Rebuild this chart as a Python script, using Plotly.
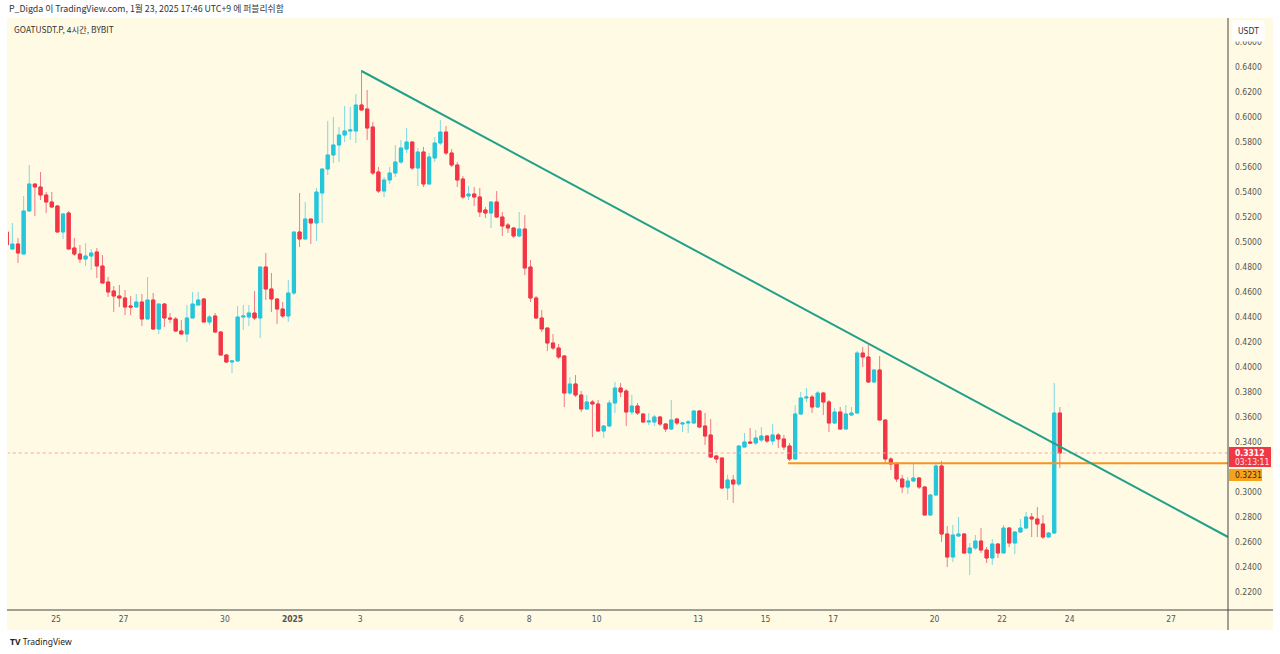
import pandas as pd
import plotly.graph_objects as go

# ---------------- data (4h candles, KST) ----------------
start_time = "2024-12-23 13:00"
n_candles = 188

open_ = [0.5080,0.4944,0.4984,0.4904,0.5248,0.5464,0.5440,0.5376,0.5320,0.5288,
         0.5080,0.5232,0.4952,0.4904,0.4864,0.4888,0.4920,0.4808,0.4680,0.4608,
         0.4568,0.4552,0.4488,0.4480,0.4520,0.4384,0.4536,0.4304,0.4504,0.4392,
         0.4384,0.4288,0.4264,0.4392,0.4496,0.4544,0.4360,0.4408,0.4280,0.4096,
         0.4040,0.4048,0.4400,0.4400,0.4432,0.4392,0.4800,0.4624,0.4544,0.4464,
         0.4408,0.4592,0.5080,0.5024,0.5184,0.5152,0.5392,0.5584,0.5696,0.5776,
         0.5856,0.5888,0.5888,0.6096,0.6064,0.5920,0.5560,0.5408,0.5496,0.5552,
         0.5640,0.5744,0.5800,0.5592,0.5720,0.5464,0.5672,0.5792,0.5880,0.5712,
         0.5616,0.5504,0.5368,0.5384,0.5360,0.5256,0.5232,0.5320,0.5200,0.5136,
         0.5112,0.5048,0.5104,0.4800,0.4552,0.4392,0.4312,0.4192,0.4152,0.4088,
         0.3792,0.3864,0.3776,0.3664,0.3720,0.3704,0.3488,0.3528,0.3712,0.3832,
         0.3808,0.3640,0.3688,0.3624,0.3560,0.3560,0.3600,0.3544,0.3504,0.3584,
         0.3544,0.3552,0.3552,0.3648,0.3528,0.3456,0.3288,0.3272,0.3032,0.3096,
         0.3064,0.3360,0.3400,0.3392,0.3416,0.3448,0.3408,0.3456,0.3424,0.3368,
         0.3264,0.3624,0.3752,0.3760,0.3680,0.3792,0.3720,0.3552,0.3640,0.3504,
         0.3616,0.3632,0.4112,0.4080,0.3880,0.3976,0.3576,0.3264,0.3224,0.3104,
         0.3040,0.3088,0.3112,0.3040,0.2816,0.2976,0.3208,0.2664,0.2480,0.2648,
         0.2664,0.2512,0.2552,0.2608,0.2536,0.2472,0.2584,0.2512,0.2712,0.2592,
         0.2680,0.2712,0.2800,0.2784,0.2744,0.2640,0.2672,0.3632]
high = [0.5208,0.5152,0.5032,0.5368,0.5616,0.5464,0.5560,0.5400,0.5400,0.5296,
        0.5232,0.5248,0.5032,0.4976,0.4992,0.4944,0.4952,0.4896,0.4720,0.4648,
        0.4656,0.4616,0.4568,0.4584,0.4584,0.4720,0.4592,0.4504,0.4512,0.4432,
        0.4400,0.4376,0.4496,0.4600,0.4600,0.4552,0.4416,0.4432,0.4288,0.4104,
        0.4056,0.4488,0.4496,0.4496,0.4608,0.4800,0.4912,0.4752,0.4552,0.4520,
        0.4696,0.5080,0.5392,0.5320,0.5184,0.5432,0.5584,0.5968,0.6000,0.5920,
        0.6088,0.6080,0.6184,0.6376,0.6216,0.5960,0.5600,0.5520,0.5600,0.5776,
        0.5816,0.5912,0.5808,0.5752,0.5760,0.5712,0.5840,0.5976,0.5928,0.5744,
        0.5640,0.5528,0.5448,0.5440,0.5432,0.5280,0.5328,0.5408,0.5240,0.5152,
        0.5120,0.5240,0.5216,0.4856,0.4568,0.4456,0.4312,0.4264,0.4184,0.4096,
        0.3920,0.3936,0.3808,0.3776,0.3736,0.3736,0.3536,0.3736,0.3880,0.3872,
        0.3824,0.3776,0.3712,0.3632,0.3632,0.3616,0.3608,0.3552,0.3736,0.3592,
        0.3560,0.3576,0.3656,0.3656,0.3632,0.3584,0.3296,0.3272,0.3136,0.3136,
        0.3376,0.3472,0.3512,0.3496,0.3520,0.3456,0.3544,0.3472,0.3456,0.3392,
        0.3696,0.3800,0.3832,0.3776,0.3808,0.3800,0.3736,0.3672,0.3680,0.3696,
        0.3680,0.4128,0.4160,0.4176,0.3984,0.4088,0.3576,0.3280,0.3240,0.3136,
        0.3120,0.3224,0.3120,0.3048,0.2984,0.3232,0.3248,0.2728,0.2736,0.2800,
        0.2672,0.2592,0.2656,0.2712,0.2560,0.2624,0.2592,0.2736,0.2720,0.2688,
        0.2784,0.2840,0.2832,0.2880,0.2816,0.2680,0.3872,0.3680]
low = [0.4936,0.4936,0.4832,0.4904,0.5248,0.5208,0.5336,0.5232,0.5272,0.5080,
       0.5024,0.4944,0.4888,0.4832,0.4808,0.4776,0.4712,0.4672,0.4560,0.4440,
       0.4480,0.4416,0.4416,0.4472,0.4328,0.4384,0.4296,0.4264,0.4320,0.4352,
       0.4280,0.4264,0.4200,0.4392,0.4496,0.4360,0.4336,0.4272,0.4096,0.4032,
       0.3952,0.4048,0.4296,0.4328,0.4376,0.4232,0.4536,0.4440,0.4344,0.4392,
       0.4360,0.4576,0.4960,0.5024,0.4984,0.5008,0.5152,0.5536,0.5632,0.5640,
       0.5800,0.5816,0.5792,0.6056,0.5816,0.5536,0.5392,0.5360,0.5464,0.5520,
       0.5624,0.5712,0.5576,0.5448,0.5440,0.5464,0.5640,0.5776,0.5696,0.5600,
       0.5440,0.5344,0.5336,0.5288,0.5200,0.5192,0.5112,0.5192,0.5048,0.5072,
       0.5032,0.5040,0.4736,0.4520,0.4384,0.4280,0.4128,0.4136,0.4064,0.3680,
       0.3776,0.3760,0.3640,0.3656,0.3440,0.3488,0.3432,0.3520,0.3632,0.3760,
       0.3528,0.3616,0.3616,0.3552,0.3536,0.3528,0.3528,0.3480,0.3496,0.3536,
       0.3480,0.3472,0.3544,0.3512,0.3376,0.3272,0.3232,0.3024,0.2936,0.2912,
       0.3048,0.3360,0.3384,0.3376,0.3400,0.3392,0.3376,0.3352,0.3336,0.3248,
       0.3264,0.3616,0.3720,0.3632,0.3672,0.3616,0.3480,0.3544,0.3496,0.3504,
       0.3608,0.3624,0.4000,0.3872,0.3872,0.3576,0.3232,0.3176,0.3080,0.2992,
       0.2984,0.3080,0.3024,0.2816,0.2808,0.2968,0.2600,0.2400,0.2440,0.2640,
       0.2504,0.2336,0.2536,0.2512,0.2432,0.2416,0.2472,0.2512,0.2560,0.2504,
       0.2672,0.2704,0.2640,0.2640,0.2624,0.2632,0.2664,0.3192]
close = [0.4976,0.4984,0.4912,0.5248,0.5464,0.5440,0.5376,0.5320,0.5280,0.5080,
         0.5224,0.4944,0.4904,0.4864,0.4888,0.4912,0.4808,0.4672,0.4600,0.4568,
         0.4552,0.4480,0.4480,0.4520,0.4384,0.4536,0.4304,0.4504,0.4392,0.4384,
         0.4288,0.4264,0.4392,0.4504,0.4536,0.4360,0.4400,0.4280,0.4096,0.4040,
         0.4048,0.4400,0.4408,0.4432,0.4392,0.4800,0.4624,0.4544,0.4464,0.4408,
         0.4592,0.5080,0.5024,0.5184,0.5152,0.5400,0.5584,0.5696,0.5776,0.5856,
         0.5888,0.5896,0.6096,0.6056,0.5912,0.5552,0.5408,0.5496,0.5552,0.5640,
         0.5752,0.5800,0.5592,0.5720,0.5464,0.5680,0.5792,0.5880,0.5712,0.5616,
         0.5496,0.5360,0.5384,0.5360,0.5240,0.5232,0.5320,0.5200,0.5128,0.5112,
         0.5048,0.5104,0.4792,0.4552,0.4392,0.4304,0.4192,0.4152,0.4080,0.3792,
         0.3864,0.3776,0.3664,0.3720,0.3704,0.3488,0.3528,0.3712,0.3832,0.3800,
         0.3640,0.3688,0.3632,0.3560,0.3568,0.3600,0.3544,0.3504,0.3576,0.3552,
         0.3552,0.3560,0.3648,0.3520,0.3448,0.3280,0.3264,0.3032,0.3096,0.3064,
         0.3368,0.3400,0.3392,0.3432,0.3448,0.3408,0.3456,0.3424,0.3360,0.3264,
         0.3624,0.3752,0.3760,0.3680,0.3792,0.3720,0.3552,0.3640,0.3504,0.3624,
         0.3632,0.4112,0.4080,0.3880,0.3976,0.3576,0.3264,0.3224,0.3104,0.3040,
         0.3088,0.3112,0.3040,0.2816,0.2976,0.3208,0.2664,0.2480,0.2656,0.2664,
         0.2512,0.2552,0.2608,0.2536,0.2472,0.2584,0.2512,0.2712,0.2592,0.2680,
         0.2712,0.2800,0.2784,0.2744,0.2640,0.2672,0.3632,0.3312]

# drawings
trend_x = ["2025-01-03 01:00", "2025-01-28 16:26"]
trend_y = [0.6368, 0.2640]
level_x = ["2025-01-15 16:00", "2025-01-28 16:26"]
level_price = 0.3231
last_price = 0.3312
countdown = "03:13:11"

x_tick_vals = ["2024-12-25", "2024-12-27", "2024-12-30", "2025-01-01", "2025-01-03",
               "2025-01-06", "2025-01-08", "2025-01-10", "2025-01-13", "2025-01-15",
               "2025-01-17", "2025-01-20", "2025-01-22", "2025-01-24", "2025-01-27"]
x_tick_text = ["25", "27", "30", "<b>2025</b>", "3", "6", "8", "10", "13", "15",
               "17", "20", "22", "24", "27"]
# 0.3200 sits under the price tags in the original, so it is not shown
y_tick_vals = [0.22, 0.24, 0.26, 0.28, 0.30, 0.34, 0.36, 0.38, 0.40, 0.42, 0.44,
               0.46, 0.48, 0.50, 0.52, 0.54, 0.56, 0.58, 0.60, 0.62, 0.64, 0.66]

times = pd.date_range(start=start_time, periods=n_candles, freq="4h")

UP = "#26C6DA"
DN = "#F23645"
UP_W = "#7FD8E4"
DN_W = "#F27A84"
BG = "#FFFAE3"
FONT = "Liberation Sans Narrow, DejaVu Sans Condensed, Liberation Sans, Arial, sans-serif"

body_hi = [max(o, c) for o, c in zip(open_, close)]
body_lo = [min(o, c) for o, c in zip(open_, close)]

fig = go.Figure()
fig.add_trace(go.Candlestick(
    x=times, open=open_, high=high, low=low, close=close,
    increasing=dict(line=dict(color=UP_W, width=1), fillcolor=UP_W),
    decreasing=dict(line=dict(color=DN_W, width=1), fillcolor=DN_W),
    showlegend=False, hoverinfo="skip"))
fig.add_trace(go.Candlestick(
    x=times, open=open_, high=body_hi, low=body_lo, close=close,
    increasing=dict(line=dict(color=UP, width=1), fillcolor=UP),
    decreasing=dict(line=dict(color=DN, width=1), fillcolor=DN),
    showlegend=False))

fig.add_trace(go.Scatter(x=[times[0], trend_x[1]], y=[last_price, last_price], mode="lines",
                         line=dict(color="#F4A3A8", width=1, dash="dot"),
                         showlegend=False, hoverinfo="skip"))
fig.add_trace(go.Scatter(x=level_x, y=[level_price, level_price], mode="lines",
                         line=dict(color="#F7931E", width=2),
                         showlegend=False, hoverinfo="skip"))
fig.add_trace(go.Scatter(x=trend_x, y=trend_y, mode="lines",
                         line=dict(color="#22A08A", width=2),
                         showlegend=False, hoverinfo="skip"))

SL, SR, ST, SB = 8, 1228, 20, 610      # plot area in page pixels
W, H = 1280, 654
def xp(px):
    return (px - SL) / (SR - SL)
def yp(py):
    return (SB - py) / (SB - ST)

shapes = [
    dict(type="rect", xref="paper", yref="paper", x0=xp(7), x1=xp(1273), y0=yp(630), y1=yp(18),
         fillcolor=BG, line=dict(width=0), layer="below"),
    dict(type="line", xref="paper", yref="paper", x0=xp(7), x1=xp(1273), y0=yp(610), y1=yp(610),
         line=dict(color="#444444", width=1)),
    dict(type="line", xref="paper", yref="paper", x0=xp(1228), x1=xp(1228), y0=yp(630), y1=yp(18),
         line=dict(color="#444444", width=1)),
    dict(type="rect", xref="paper", yref="paper", x0=xp(1229), x1=xp(1271), y0=yp(467), y1=yp(447),
         fillcolor=DN, line=dict(width=0), layer="above"),
    dict(type="rect", xref="paper", yref="paper", x0=xp(1229), x1=xp(1262), y0=yp(481), y1=yp(469),
         fillcolor="#F7A21B", line=dict(width=0), layer="above"),
]

annotations = [
    dict(text="P_Digda 이 TradingView.com, 1월 23, 2025 17:46 UTC+9 에 퍼블리쉬함",
         x=xp(7), y=yp(9), xref="paper", yref="paper", xanchor="left", yanchor="middle",
         showarrow=False, font=dict(family="Noto Sans CJK KR, Noto Sans, sans-serif", size=8.8, color="#333333")),
    dict(text="GOATUSDT.P, 4시간, BYBIT",
         x=xp(12), y=yp(29), xref="paper", yref="paper", xanchor="left", yanchor="middle",
         showarrow=False, font=dict(family="Noto Sans CJK KR, Noto Sans, sans-serif", size=8.4, color="#333333")),
    dict(text="USDT", x=xp(1232), y=yp(31), xref="paper", yref="paper", xanchor="left", yanchor="middle",
         showarrow=False, bgcolor="#FFFFFF", borderpad=5,
         font=dict(family=FONT, size=8.5, color="#333333")),
    dict(text="<b>%.4f</b>" % last_price, x=xp(1233), y=yp(452.5), xref="paper", yref="paper",
         xanchor="left", yanchor="middle", showarrow=False,
         font=dict(family=FONT, size=8.5, color="#FFFFFF")),
    dict(text=countdown, x=xp(1233), y=yp(462), xref="paper", yref="paper",
         xanchor="left", yanchor="middle", showarrow=False,
         font=dict(family=FONT, size=8.5, color="#FFE4E6")),
    dict(text="%.4f" % level_price, x=xp(1233), y=yp(475), xref="paper", yref="paper",
         xanchor="left", yanchor="middle", showarrow=False,
         font=dict(family=FONT, size=8.5, color="#3A2A10")),
    dict(text="<b>TV</b> TradingView", x=xp(8), y=yp(641), xref="paper", yref="paper",
         xanchor="left", yanchor="middle", showarrow=False,
         font=dict(family="Noto Sans, sans-serif", size=8.5, color="#222222")),
]

fig.update_layout(
    width=W, height=H,
    margin=dict(l=SL, r=W - SR, t=ST, b=H - SB),
    paper_bgcolor="#FFFFFF", plot_bgcolor=BG,
    boxgap=0.25, boxgroupgap=0.25,
    shapes=shapes, annotations=annotations,
    xaxis=dict(type="date", range=["2024-12-23 13:54", "2025-01-28 16:26"],
               rangeslider=dict(visible=False), showgrid=False, zeroline=False,
               tickmode="array", tickvals=x_tick_vals, ticktext=x_tick_text,
               ticks="", ticklabelstandoff=2, showline=False,
               tickfont=dict(family=FONT, size=8.5, color="#555555")),
    yaxis=dict(side="right", range=[0.2056, 0.6776], showgrid=False, zeroline=False,
               tickmode="array", tickvals=y_tick_vals, tickformat=".4f",
               ticks="", ticklabelstandoff=6, showline=False,
               tickfont=dict(family=FONT, size=8.5, color="#555555")),
)

# remove the browser's default 8px page margin so the figure sits at the page origin
fig.write_html("out.html", config={"displayModeBar": False},
               post_script="document.body.style.margin='0';")
